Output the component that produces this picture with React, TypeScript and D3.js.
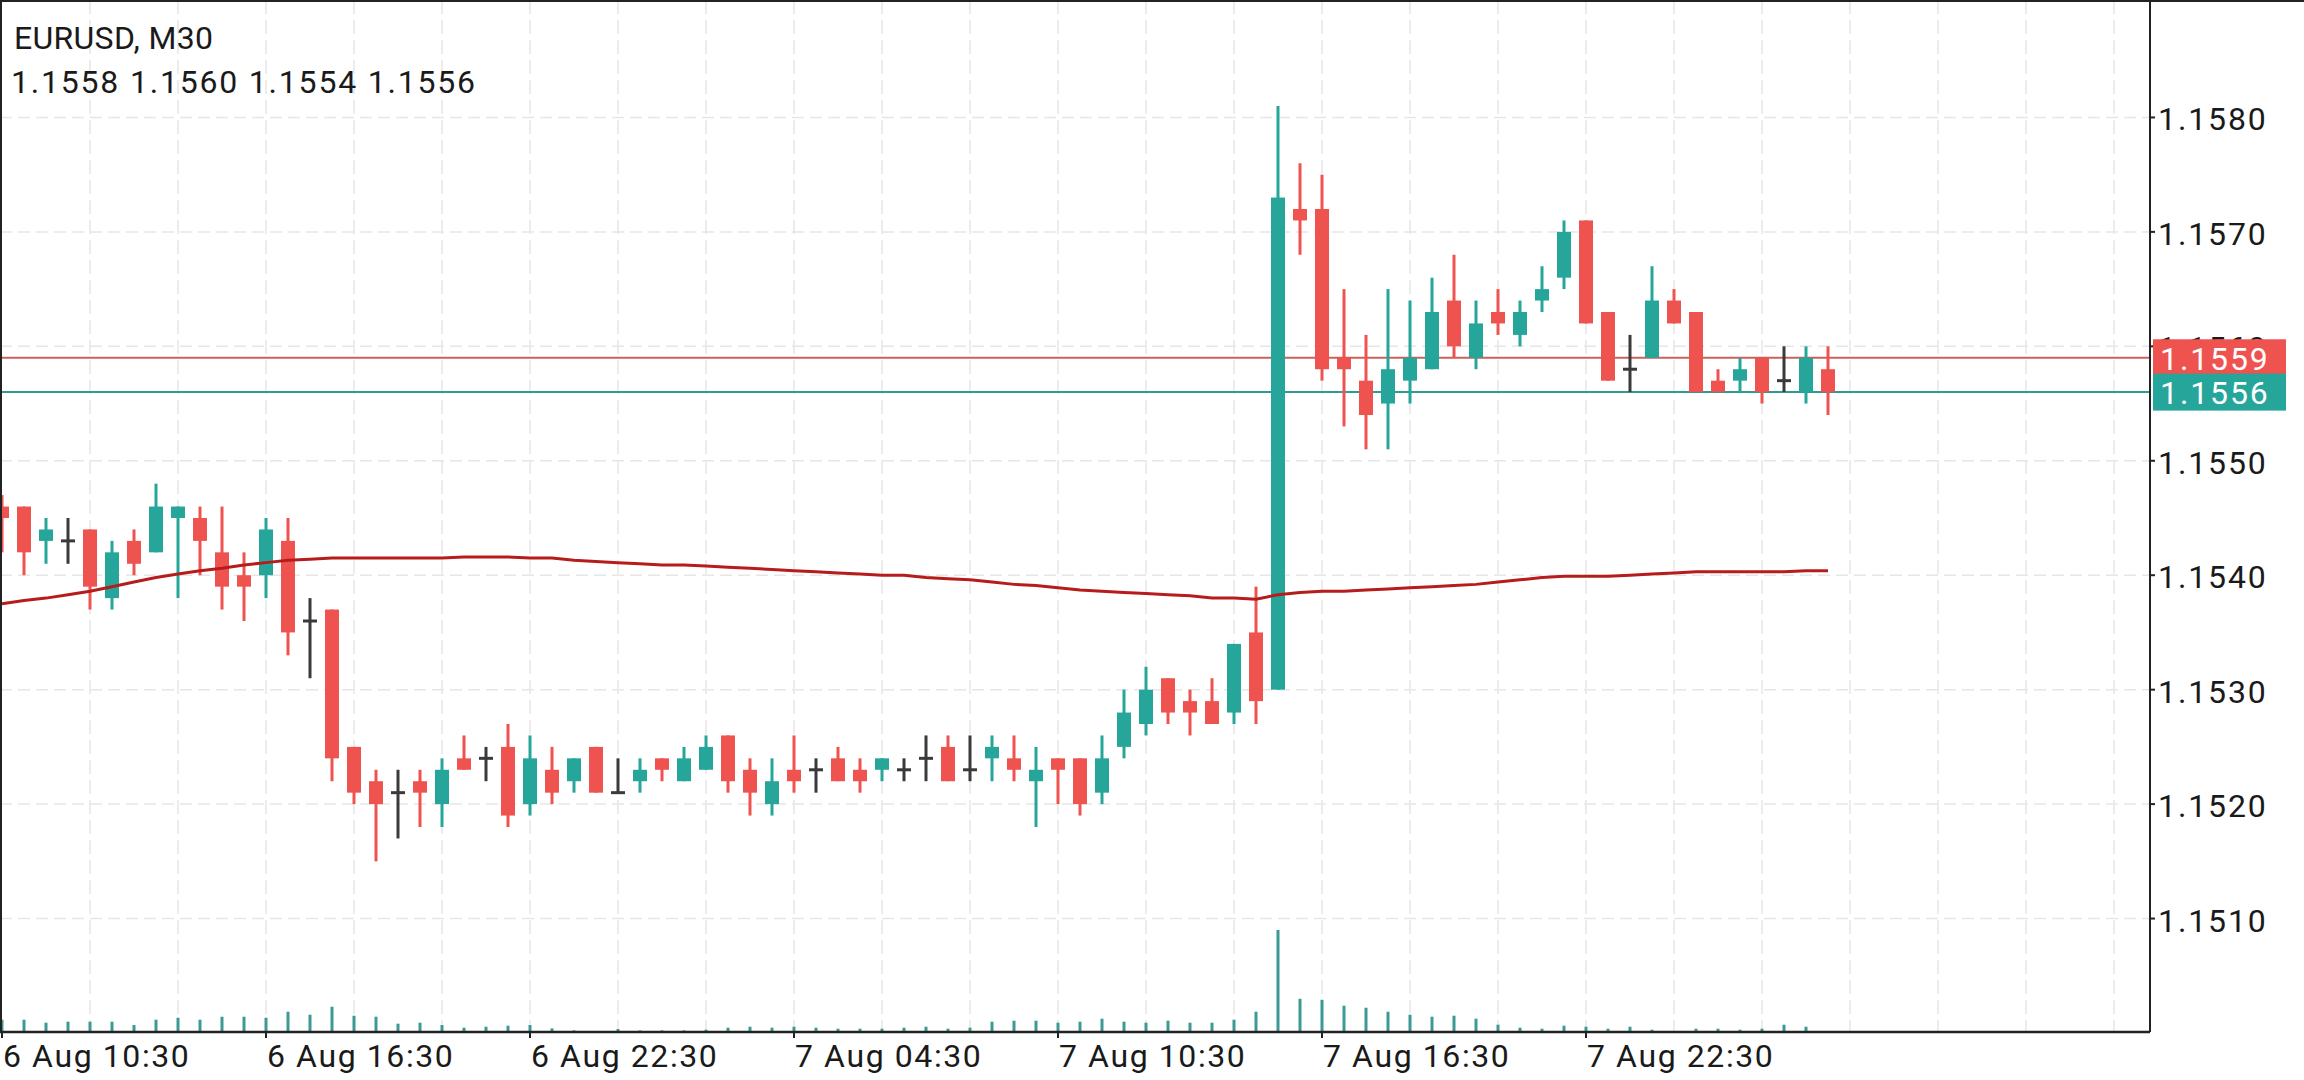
import { line, scaleLinear } from "d3";

const WIDTH = 2304;
const HEIGHT = 1080;
const PLOT_RIGHT = 2150;
const PLOT_BOTTOM = 1032;

const SYMBOL = "EURUSD, M30";

// 30-minute candles starting 6 Aug 10:30
const OPEN = [
  1.1546, 1.1546, 1.1543, 1.1543, 1.1544, 1.1538, 1.1543, 1.1542, 1.1545, 1.1545,
  1.1542, 1.154, 1.154, 1.1543, 1.1536, 1.1537, 1.1525, 1.1522, 1.1521, 1.1522,
  1.152, 1.1524, 1.1524, 1.1525, 1.152, 1.1523, 1.1522, 1.1525, 1.1521, 1.1522,
  1.1524, 1.1522, 1.1523, 1.1526, 1.1523, 1.152, 1.1523, 1.1523, 1.1524, 1.1523,
  1.1523, 1.1523, 1.1524, 1.1525, 1.1523, 1.1524, 1.1524, 1.1522, 1.1524, 1.1524,
  1.1521, 1.1525, 1.1527, 1.1531, 1.1529, 1.1529, 1.1528, 1.1535, 1.153, 1.1572,
  1.1572, 1.1559, 1.1557, 1.1555, 1.1557, 1.1558, 1.1564, 1.1559, 1.1563, 1.1561,
  1.1564, 1.1566, 1.1571, 1.1563, 1.1558, 1.1559, 1.1564, 1.1563, 1.1557, 1.1557,
  1.1559, 1.1557, 1.1556, 1.1558,
];
const HIGH = [
  1.1547, 1.1546, 1.1545, 1.1545, 1.1544, 1.1543, 1.1544, 1.1548, 1.1546, 1.1546,
  1.1546, 1.1542, 1.1545, 1.1545, 1.1538, 1.1537, 1.1525, 1.1523, 1.1523, 1.1523,
  1.1524, 1.1526, 1.1525, 1.1527, 1.1526, 1.1525, 1.1524, 1.1525, 1.1524, 1.1524,
  1.1524, 1.1525, 1.1526, 1.1526, 1.1524, 1.1524, 1.1526, 1.1524, 1.1525, 1.1524,
  1.1524, 1.1524, 1.1526, 1.1526, 1.1526, 1.1526, 1.1526, 1.1525, 1.1524, 1.1524,
  1.1526, 1.153, 1.1532, 1.1531, 1.153, 1.1531, 1.1534, 1.1539, 1.1581, 1.1576,
  1.1575, 1.1565, 1.1561, 1.1565, 1.1564, 1.1566, 1.1568, 1.1564, 1.1565, 1.1564,
  1.1567, 1.1571, 1.1571, 1.1563, 1.1561, 1.1567, 1.1565, 1.1563, 1.1558, 1.1559,
  1.1559, 1.156, 1.156, 1.156,
];
const LOW = [
  1.1542, 1.154, 1.1541, 1.1541, 1.1537, 1.1537, 1.154, 1.1542, 1.1538, 1.154,
  1.1537, 1.1536, 1.1538, 1.1533, 1.1531, 1.1522, 1.152, 1.1515, 1.1517, 1.1518,
  1.1518, 1.1523, 1.1522, 1.1518, 1.1519, 1.152, 1.1521, 1.1521, 1.1521, 1.1521,
  1.1522, 1.1522, 1.1523, 1.1521, 1.1519, 1.1519, 1.1521, 1.1521, 1.1522, 1.1521,
  1.1522, 1.1522, 1.1522, 1.1522, 1.1522, 1.1522, 1.1522, 1.1518, 1.152, 1.1519,
  1.152, 1.1524, 1.1526, 1.1527, 1.1526, 1.1527, 1.1527, 1.1527, 1.153, 1.1568,
  1.1557, 1.1553, 1.1551, 1.1551, 1.1555, 1.1558, 1.1559, 1.1558, 1.1561, 1.156,
  1.1563, 1.1565, 1.1562, 1.1557, 1.1556, 1.1559, 1.1562, 1.1556, 1.1556, 1.1556,
  1.1555, 1.1556, 1.1555, 1.1554,
];
const CLOSE = [
  1.1545, 1.1542, 1.1544, 1.1543, 1.1539, 1.1542, 1.1541, 1.1546, 1.1546, 1.1543,
  1.1539, 1.1539, 1.1544, 1.1535, 1.1536, 1.1524, 1.1521, 1.152, 1.1521, 1.1521,
  1.1523, 1.1523, 1.1524, 1.1519, 1.1524, 1.1521, 1.1524, 1.1521, 1.1521, 1.1523,
  1.1523, 1.1524, 1.1525, 1.1522, 1.1521, 1.1522, 1.1522, 1.1523, 1.1522, 1.1522,
  1.1524, 1.1523, 1.1524, 1.1522, 1.1523, 1.1525, 1.1523, 1.1523, 1.1523, 1.152,
  1.1524, 1.1528, 1.153, 1.1528, 1.1528, 1.1527, 1.1534, 1.1529, 1.1573, 1.1571,
  1.1558, 1.1558, 1.1554, 1.1558, 1.1559, 1.1563, 1.156, 1.1562, 1.1562, 1.1563,
  1.1565, 1.157, 1.1562, 1.1557, 1.1558, 1.1564, 1.1562, 1.1556, 1.1556, 1.1558,
  1.1556, 1.1557, 1.1559, 1.1556,
];
const VOLUME = [
  37, 37, 28, 31, 31, 31, 21, 37, 43, 37, 46, 46, 43, 61, 52, 76, 49, 46, 25, 28,
  21, 13, 16, 19, 21, 11, 5, 2, 9, 5, 5, 5, 7, 13, 16, 13, 16, 13, 10, 10,
  10, 13, 16, 10, 13, 31, 34, 34, 28, 31, 40, 31, 28, 34, 28, 28, 37, 61, 307, 100,
  97, 79, 73, 61, 52, 46, 49, 40, 22, 13, 10, 19, 16, 10, 16, 7, 3, 10, 10, 7,
  10, 22, 16, 3,
];
const MOVING_AVERAGE = [
  1.15375, 1.15378, 1.1538, 1.15383, 1.15386, 1.1539, 1.15394, 1.15398, 1.15401, 1.15404,
  1.15406, 1.15409, 1.15411, 1.15413, 1.15414, 1.15415, 1.15415, 1.15415, 1.15415, 1.15415,
  1.15415, 1.15416, 1.15416, 1.15416, 1.15415, 1.15415, 1.15413, 1.15412, 1.15411, 1.1541,
  1.15409, 1.15409, 1.15408, 1.15407, 1.15406, 1.15405, 1.15404, 1.15403, 1.15402, 1.15401,
  1.154, 1.154, 1.15398, 1.15397, 1.15396, 1.15394, 1.15392, 1.15391, 1.15389, 1.15387,
  1.15386, 1.15385, 1.15384, 1.15383, 1.15382, 1.1538, 1.1538, 1.15379, 1.15383, 1.15385,
  1.15386, 1.15386, 1.15387, 1.15388, 1.15389, 1.1539, 1.15391, 1.15392, 1.15394, 1.15396,
  1.15398, 1.15399, 1.15399, 1.15399, 1.154, 1.15401, 1.15402, 1.15403, 1.15403, 1.15403,
  1.15403, 1.15403, 1.15404, 1.15404,
];

const TIME_TICKS = [0, 12, 24, 36, 48, 60, 72];
const TIME_LABELS = [
  "6 Aug 10:30",
  "6 Aug 16:30",
  "6 Aug 22:30",
  "7 Aug 04:30",
  "7 Aug 10:30",
  "7 Aug 16:30",
  "7 Aug 22:30",
];
const PRICE_TICKS = [1.151, 1.152, 1.153, 1.154, 1.155, 1.156, 1.157, 1.158];
const ASK = 1.1559;
const BID = 1.1556;

const BULL = "#26a69a";
const BEAR = "#ef5350";
const DOJI = "#3a3a3a";
const FONT = "Roboto, 'Noto Sans', sans-serif";

export default function App() {
  const x = scaleLinear().domain([0, 96]).range([2, 2114]);
  const y = scaleLinear().domain([1.15, 1.159]).range([1033, 3]);
  const vol = scaleLinear()
    .domain([0, Math.max(...VOLUME)])
    .range([PLOT_BOTTOM, PLOT_BOTTOM - 102]);

  const gridIndex = Array.from({ length: 24 }, (_, i) => (i + 1) * 4);
  const maPath = line<number>()
    .x((_, i) => x(i))
    .y((d) => y(d))(MOVING_AVERAGE);

  const last = OPEN.length - 1;
  const ohlc = [OPEN[last], HIGH[last], LOW[last], CLOSE[last]]
    .map((v) => v.toFixed(4))
    .join(" ");

  return (
    <div>
      <style>{"body{margin:0}"}</style>
      <svg width={WIDTH} height={HEIGHT} viewBox={`0 0 ${WIDTH} ${HEIGHT}`} style={{ display: "block", background: "#fff" }}>
        {/* grid */}
        {gridIndex.map((i) => (
          <line key={`gx${i}`} x1={x(i)} x2={x(i)} y1={0} y2={PLOT_BOTTOM} stroke="#e6e6e6" strokeWidth={1.5} strokeDasharray="14 6" />
        ))}
        {PRICE_TICKS.map((p) => (
          <line key={`gy${p}`} x1={0} x2={PLOT_RIGHT} y1={y(p)} y2={y(p)} stroke="#e6e6e6" strokeWidth={1.5} strokeDasharray="12 6" />
        ))}

        {/* volumes */}
        {VOLUME.map((v, i) => (
          <line key={`v${i}`} x1={x(i)} x2={x(i)} y1={PLOT_BOTTOM} y2={vol(v)} stroke="#3b9b94" strokeWidth={3} />
        ))}

        {/* ask / bid lines */}
        <line x1={0} x2={PLOT_RIGHT} y1={y(ASK)} y2={y(ASK)} stroke="#c8625a" strokeWidth={2} />
        <line x1={0} x2={PLOT_RIGHT} y1={y(BID)} y2={y(BID)} stroke="#2f9c92" strokeWidth={2} />

        {/* candles */}
        {OPEN.map((o, i) => {
          const c = CLOSE[i];
          const color = c > o ? BULL : c < o ? BEAR : DOJI;
          const top = y(Math.max(o, c));
          const bottom = y(Math.min(o, c));
          return (
            <g key={`c${i}`}>
              <line x1={x(i)} x2={x(i)} y1={y(HIGH[i])} y2={y(LOW[i])} stroke={color} strokeWidth={3} />
              {c === o ? (
                <line x1={x(i) - 7} x2={x(i) + 7} y1={top} y2={top} stroke={color} strokeWidth={3} />
              ) : (
                <rect x={x(i) - 7} y={top} width={14} height={bottom - top} fill={color} />
              )}
            </g>
          );
        })}

        {/* moving average */}
        <path d={maPath ?? ""} fill="none" stroke="#b71c1c" strokeWidth={3} />

        {/* frame */}
        <line x1={1} x2={1} y1={0} y2={PLOT_BOTTOM} stroke="#222" strokeWidth={2} />
        <line x1={0} x2={WIDTH} y1={1} y2={1} stroke="#222" strokeWidth={2} />
        <line x1={PLOT_RIGHT} x2={PLOT_RIGHT} y1={0} y2={PLOT_BOTTOM} stroke="#222" strokeWidth={2} />
        <line x1={0} x2={PLOT_RIGHT} y1={PLOT_BOTTOM} y2={PLOT_BOTTOM} stroke="#222" strokeWidth={2.5} />

        {/* price axis */}
        {PRICE_TICKS.map((p) => (
          <g key={`py${p}`}>
            <line x1={PLOT_RIGHT} x2={PLOT_RIGHT + 5} y1={y(p)} y2={y(p)} stroke="#222" strokeWidth={2} />
            <text x={2158} y={y(p) + 2} dominantBaseline="central" fontFamily={FONT} fontSize={32} fill="#1a1a1a" style={{ letterSpacing: "1.9px" }}>
              {p.toFixed(4)}
            </text>
          </g>
        ))}

        {/* ask / bid tags */}
        {[
          { price: ASK, color: "#ef5350" },
          { price: BID, color: "#26a69a" },
        ].map((tag) => (
          <g key={`tag${tag.price}`}>
            <rect x={2153} y={y(tag.price) - 18.5} width={133} height={37} fill={tag.color} />
            <text x={2160} y={y(tag.price) + 1} dominantBaseline="central" fontFamily={FONT} fontSize={32} fill="#fff" style={{ letterSpacing: "1.9px" }}>
              {tag.price.toFixed(4)}
            </text>
          </g>
        ))}

        {/* time axis */}
        {TIME_TICKS.map((i, k) => (
          <g key={`t${i}`}>
            <line x1={x(i)} x2={x(i)} y1={PLOT_BOTTOM} y2={PLOT_BOTTOM + 6} stroke="#222" strokeWidth={2} />
            <text x={x(i) + 1} y={1067} fontFamily={FONT} fontSize={32} fill="#1a1a1a" style={{ letterSpacing: "1.6px" }}>
              {TIME_LABELS[k]}
            </text>
          </g>
        ))}

        {/* header */}
        <text x={14} y={49} fontFamily={FONT} fontSize={32} fill="#1a1a1a" style={{ letterSpacing: "0.3px" }}>
          {SYMBOL}
        </text>
        <text x={11} y={93} fontFamily={FONT} fontSize={32} fill="#1a1a1a" style={{ letterSpacing: "1.8px" }}>
          {ohlc}
        </text>
      </svg>
    </div>
  );
}
